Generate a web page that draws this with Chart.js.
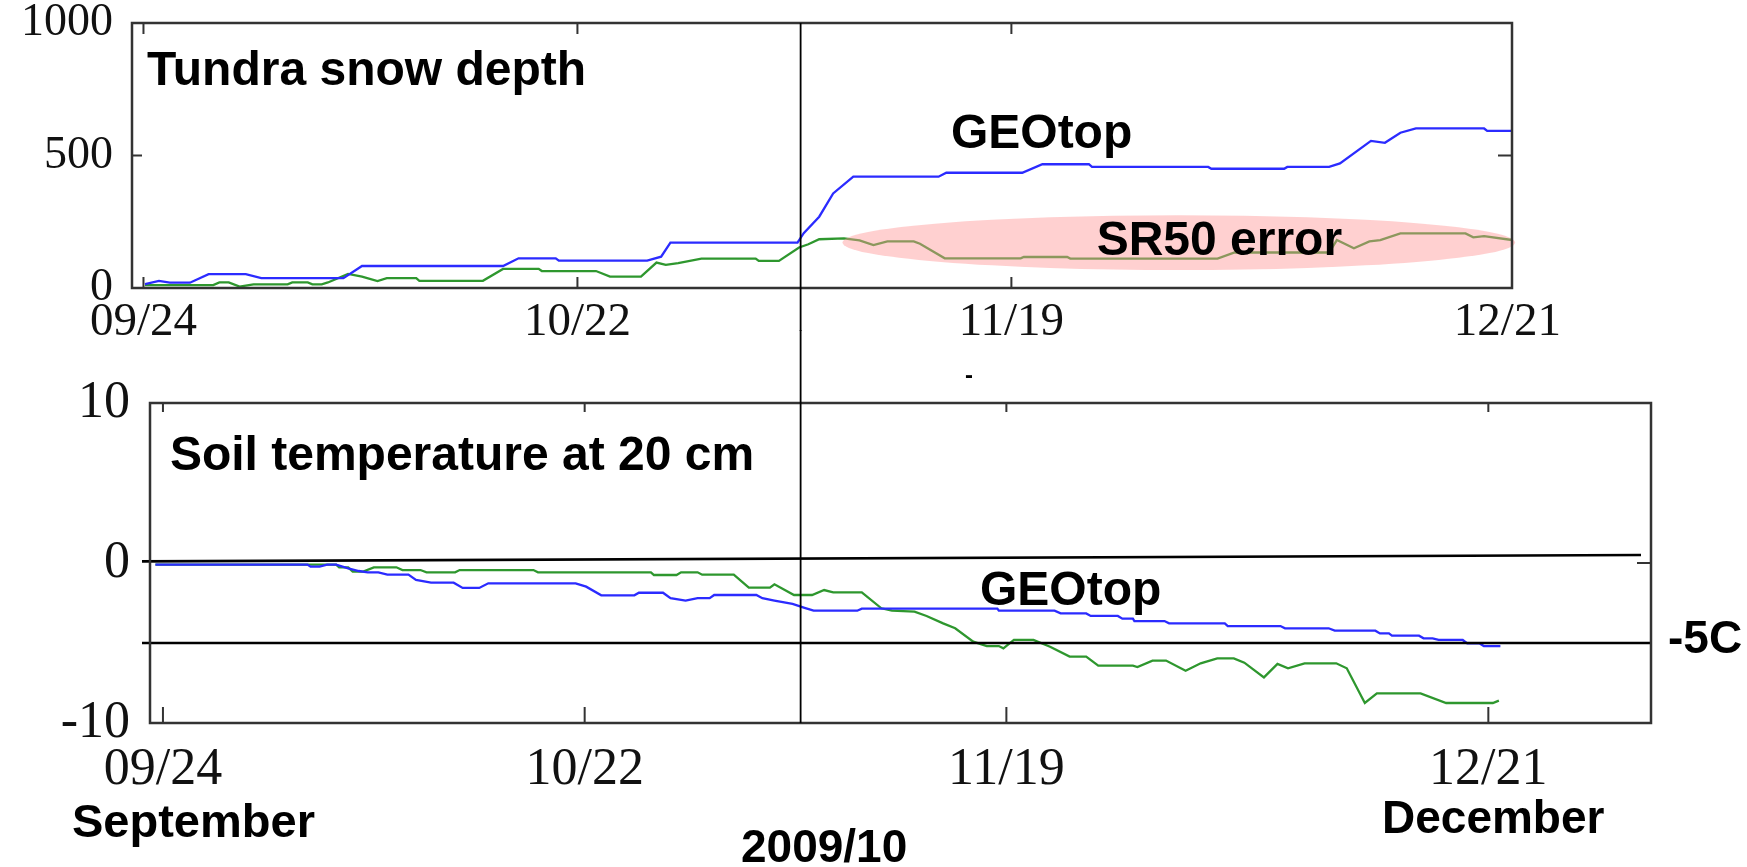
<!DOCTYPE html>
<html>
<head>
<meta charset="utf-8">
<title>Tundra snow depth and soil temperature 2009/10</title>
<script src="https://cdn.jsdelivr.net/npm/chart.js@4.4.1/dist/chart.umd.min.js"></script>
<style>
    html, body { margin: 0; padding: 0; background: #ffffff; }
    #page { position: relative; width: 1747px; height: 867px; overflow: hidden; background: #ffffff; }
    #snowChart { position: absolute; left: 0; top: 0; }
    #soilChart { position: absolute; left: 0; top: 330px; }
</style>
</head>
<body>
<div id="page">
    <canvas id="snowChart" width="1747" height="400"></canvas>
    <canvas id="soilChart" width="1747" height="537"></canvas>
</div>
<script>
// x values are days after 09/24 (2009)
var xTickDays = [0, 28, 56, 88];
var xTickLabels = ['09/24', '10/22', '11/19', '12/21'];
var snowTicks = [0, 500, 1000];
var soilTicks = [-10, 0, 10];

// Tundra snow depth, GEOtop (blue)
var geotopSnowDays = [0.1, 1.0, 1.7, 3.0, 4.2, 6.6, 7.6, 12.9, 14.1, 23.2, 24.2, 26.6, 26.8, 32.5, 33.4, 34.0,
    42.2, 42.6, 43.6, 44.5, 45.8, 51.3, 51.8, 56.7, 58.0, 61.0, 61.2, 68.7, 68.9, 73.6, 73.8, 76.5,
    77.2, 79.2, 80.1, 81.1, 82.1, 86.5, 86.7, 88.3];
var geotopSnow = [15, 27, 20, 20, 52, 52, 37, 37, 83, 83, 112, 112, 103, 103, 118, 171,
    171, 207, 269, 357, 420, 420, 435, 435, 467, 467, 457, 457, 450, 450, 457, 457,
    470, 555, 548, 586, 602, 602, 593, 593];

// Tundra snow depth, SR50 sensor (green)
var sr50SnowDays = [0.1, 4.5, 4.9, 5.5, 6.2, 7.1, 9.3, 9.6, 10.6, 10.9, 11.5, 11.9, 13.2, 14.1, 15.1, 15.7,
    17.6, 17.8, 21.9, 23.2, 25.5, 25.7, 29.2, 30.1, 32.1, 33.1, 33.7, 34.5, 36.0, 39.5, 39.7, 41.0,
    42.3, 42.9, 43.6, 45.2, 46.2, 47.1, 48.0, 49.7, 50.1, 51.7, 56.6, 56.8, 59.6, 59.8, 69.3, 70.4,
    76.5, 77.0, 78.1, 79.1, 79.8, 81.1, 85.3, 85.8, 86.5, 88.3];
var sr50Snow = [11, 11, 21, 21, 5, 14, 14, 21, 21, 14, 14, 21, 53, 43, 26, 37,
    37, 27, 27, 72, 72, 64, 64, 43, 43, 96, 87, 94, 111, 111, 102, 102,
    153, 165, 184, 187, 180, 162, 176, 176, 167, 112, 112, 117, 117, 111, 111, 134,
    134, 181, 150, 176, 181, 206, 206, 191, 196, 181];

// Soil temperature at 20 cm, GEOtop (blue)
var geotopSoilDays = [-0.5, 9.6, 9.8, 10.4, 10.9, 11.5, 12.3, 13.0, 13.6, 14.3, 14.9, 16.3, 16.8, 17.8, 19.3, 19.9,
    21.0, 21.6, 27.4, 28.1, 29.1, 31.3, 31.6, 33.2, 33.7, 34.7, 35.5, 36.3, 36.6, 39.4, 39.8, 40.6,
    41.8, 42.6, 43.2, 46.1, 46.4, 55.4, 55.5, 59.2, 59.6, 61.3, 61.6, 63.4, 63.7, 64.4, 64.5, 66.5,
    66.8, 70.5, 70.7, 74.2, 74.5, 77.4, 77.8, 80.5, 80.8, 81.4, 81.6, 83.4, 83.7, 84.3, 84.7, 86.3,
    86.6, 87.4, 87.7, 88.8];
var geotopSoil = [-0.1, -0.1, -0.23, -0.23, -0.1, -0.1, -0.33, -0.5, -0.58, -0.58, -0.73, -0.73, -1.06, -1.23, -1.23, -1.56,
    -1.56, -1.27, -1.27, -1.48, -2.02, -2.02, -1.86, -1.86, -2.2, -2.35, -2.2, -2.2, -2.0, -2.0, -2.2, -2.35,
    -2.56, -2.8, -2.98, -2.98, -2.85, -2.85, -2.98, -2.98, -3.15, -3.15, -3.31, -3.31, -3.48, -3.48, -3.63, -3.63,
    -3.77, -3.77, -3.94, -3.94, -4.08, -4.08, -4.23, -4.23, -4.4, -4.4, -4.54, -4.54, -4.71, -4.71, -4.81, -4.81,
    -5.02, -5.02, -5.19, -5.19];

// Soil temperature at 20 cm, observed (green)
var obsSoilDays = [-0.5, 11.5, 11.7, 12.3, 12.6, 13.3, 14.0, 15.5, 15.9, 17.1, 17.5, 19.4, 19.7, 24.6, 24.9, 32.4,
    32.6, 34.1, 34.4, 35.5, 35.8, 37.9, 38.9, 40.3, 40.6, 41.9, 43.1, 43.9, 44.5, 46.4, 47.7, 48.4,
    49.9, 50.7, 51.8, 52.6, 53.8, 54.7, 55.5, 55.8, 56.5, 57.8, 58.9, 60.2, 61.3, 62.1, 64.4, 64.7,
    65.7, 66.6, 67.9, 68.9, 70.0, 71.1, 71.8, 73.1, 74.0, 74.7, 75.8, 77.9, 78.6, 79.8, 80.6, 83.5,
    85.2, 88.3, 88.7];
var obsSoil = [-0.1, -0.1, -0.27, -0.27, -0.54, -0.54, -0.27, -0.27, -0.44, -0.44, -0.58, -0.58, -0.44, -0.44, -0.58, -0.58,
    -0.75, -0.75, -0.58, -0.58, -0.73, -0.73, -1.54, -1.54, -1.33, -2.0, -2.0, -1.69, -1.83, -1.83, -2.83, -2.98,
    -3.04, -3.31, -3.77, -4.08, -4.92, -5.19, -5.19, -5.33, -4.81, -4.81, -5.23, -5.85, -5.85, -6.42, -6.42, -6.5,
    -6.1, -6.1, -6.73, -6.27, -5.96, -5.96, -6.23, -7.15, -6.31, -6.58, -6.27, -6.27, -6.58, -8.75, -8.15, -8.15,
    -8.75, -8.75, -8.6];

var markerDay = 42.4;      // vertical divider through both panels
var zeroLine = [0.1, 0.5]; // hand drawn 0 line (left end, right end)
var coldLine = -5;

var BLUE = '#2b2bff';
var GREEN = '#2e972e';
var SERIF = '"Liberation Serif", "Times New Roman", serif';
var SANS_BOLD = 'bold 48px "Liberation Sans", Arial, sans-serif';

// the lower canvas starts this far down the page; the upper divider stops here
var SOIL_CANVAS_TOP = 330;

function toPoints(days, values) {
    return days.map(function(d, i) {
        return { x: d, y: values[i] };
    });
}

function lineDataset(label, points, color) {
    return {
        label: label,
        data: points,
        borderColor: color,
        backgroundColor: color,
        borderWidth: 2.3,
        pointRadius: 0,
        tension: 0,
        fill: false
    };
}

function xScaleOptions(min, max, height, padding, fontSize) {
    return {
        type: 'linear',
        min: min,
        max: max,
        grid: { display: false, drawTicks: false },
        border: { display: false },
        afterBuildTicks: function(scale) {
            scale.ticks = xTickDays.map(function(v) { return { value: v }; });
        },
        afterFit: function(scale) {
            scale.height = height;
            scale.paddingLeft = 0;
            scale.paddingRight = 0;
        },
        ticks: {
            autoSkip: false,
            maxRotation: 0,
            minRotation: 0,
            padding: padding,
            color: '#111',
            font: { family: SERIF, size: fontSize, lineHeight: 1 },
            callback: function(value) {
                var i = xTickDays.indexOf(value);
                return i >= 0 ? xTickLabels[i] : '';
            }
        }
    };
}

function yScaleOptions(min, max, tickValues, width, padding, fontSize) {
    return {
        min: min,
        max: max,
        grid: { display: false, drawTicks: false },
        border: { display: false },
        afterBuildTicks: function(scale) {
            scale.ticks = tickValues.map(function(v) { return { value: v }; });
        },
        afterFit: function(scale) {
            scale.width = width;
            scale.paddingTop = 0;
            scale.paddingBottom = 0;
        },
        ticks: {
            padding: padding,
            color: '#111',
            font: { family: SERIF, size: fontSize, lineHeight: 1 },
            callback: function(value) {
                return String(value);
            }
        }
    };
}

function drawFrame(chart) {
    var a = chart.chartArea, ctx = chart.ctx;
    ctx.save();
    ctx.strokeStyle = '#333';
    ctx.lineWidth = 2.5;
    ctx.strokeRect(a.left, a.top, a.right - a.left, a.bottom - a.top);
    ctx.restore();
}

// small tick marks pointing into the plot
function drawInnerTicks(chart, days, topLen, bottomLen, yValues, leftLen, rightLen) {
    var a = chart.chartArea, ctx = chart.ctx;
    var xs = chart.scales.x, ys = chart.scales.y;
    ctx.save();
    ctx.strokeStyle = '#333';
    ctx.lineWidth = 2;
    ctx.beginPath();
    days.forEach(function(d) {
        var px = xs.getPixelForValue(d);
        ctx.moveTo(px, a.top); ctx.lineTo(px, a.top + topLen);
        ctx.moveTo(px, a.bottom); ctx.lineTo(px, a.bottom - bottomLen);
    });
    yValues.forEach(function(v) {
        var py = ys.getPixelForValue(v);
        ctx.moveTo(a.left, py); ctx.lineTo(a.left + leftLen, py);
        ctx.moveTo(a.right, py); ctx.lineTo(a.right - rightLen, py);
    });
    ctx.stroke();
    ctx.restore();
}

function drawDivider(ctx, x, y0, y1) {
    ctx.save();
    ctx.strokeStyle = '#000';
    ctx.lineWidth = 1.8;
    ctx.beginPath();
    ctx.moveTo(x, y0);
    ctx.lineTo(x, y1);
    ctx.stroke();
    ctx.restore();
}

function drawLabel(ctx, text, x, y, font) {
    ctx.save();
    ctx.fillStyle = '#000';
    ctx.font = font || SANS_BOLD;
    ctx.textAlign = 'left';
    ctx.textBaseline = 'alphabetic';
    ctx.fillText(text, x, y);
    ctx.restore();
}

var snowDecor = {
    id: 'snowDecor',
    afterDatasetsDraw: function(chart) {
        var ctx = chart.ctx, a = chart.chartArea;
        var xs = chart.scales.x, ys = chart.scales.y;

        // pink "SR50 error" ellipse laid over the lines
        var left = xs.getPixelForValue(45.1), right = xs.getPixelForValue(88.5);
        var top = ys.getPixelForValue(275), bottom = ys.getPixelForValue(68);
        ctx.save();
        ctx.fillStyle = 'rgba(255, 150, 150, 0.45)';
        ctx.beginPath();
        ctx.ellipse((left + right) / 2, (top + bottom) / 2, (right - left) / 2, (bottom - top) / 2, 0, 0, Math.PI * 2);
        ctx.fill();
        ctx.restore();

        drawFrame(chart);
        drawInnerTicks(chart, [0, 28, 56], 11, 11, [500], 10, 14);

        // divider line, continued by the lower panel
        drawDivider(ctx, xs.getPixelForValue(markerDay), a.top, SOIL_CANVAS_TOP + 1);

        drawLabel(ctx, 'Tundra snow depth', xs.getPixelForValue(0.23), ys.getPixelForValue(766));
        drawLabel(ctx, 'GEOtop', xs.getPixelForValue(52.1), ys.getPixelForValue(528));
        drawLabel(ctx, 'SR50 error', xs.getPixelForValue(61.5), ys.getPixelForValue(125));
    }
};

var soilDecor = {
    id: 'soilDecor',
    afterDatasetsDraw: function(chart) {
        var ctx = chart.ctx, a = chart.chartArea;
        var xs = chart.scales.x, ys = chart.scales.y;

        // hand drawn reference lines at 0 and -5 C
        ctx.save();
        ctx.strokeStyle = '#000';
        ctx.lineWidth = 2.6;
        ctx.beginPath();
        ctx.moveTo(a.left - 8, ys.getPixelForValue(zeroLine[0]));
        ctx.lineTo(a.right - 10, ys.getPixelForValue(zeroLine[1]));
        ctx.moveTo(a.left - 8, ys.getPixelForValue(coldLine));
        ctx.lineTo(a.right, ys.getPixelForValue(coldLine));
        ctx.stroke();
        ctx.restore();

        drawFrame(chart);
        drawInnerTicks(chart, xTickDays, 9, 16, [0], 0, 14);

        // same page x as the upper panel's divider, so both halves line up
        var upper = Chart.getChart('snowChart');
        var mx = upper ? upper.scales.x.getPixelForValue(markerDay) : xs.getPixelForValue(markerDay);
        drawDivider(ctx, mx, 0, a.bottom);

        drawLabel(ctx, 'Soil temperature at 20 cm', xs.getPixelForValue(0.46), ys.getPixelForValue(5.8));
        drawLabel(ctx, 'GEOtop', xs.getPixelForValue(54.25), ys.getPixelForValue(-2.63));
        drawLabel(ctx, '-5C', a.right + 17, ys.getPixelForValue(coldLine) + 10, 'bold 46px "Liberation Sans", Arial, sans-serif');
        drawLabel(ctx, '-', 965, a.top - 20, 'bold 24px "Liberation Sans", Arial, sans-serif');

        // captions under the axis
        drawLabel(ctx, 'September', 72, a.bottom + 114, 'bold 47px "Liberation Sans", Arial, sans-serif');
        drawLabel(ctx, 'December', 1382, a.bottom + 110, 'bold 46px "Liberation Sans", Arial, sans-serif');
        drawLabel(ctx, '2009/10', 741, a.bottom + 139, 'bold 46px "Liberation Sans", Arial, sans-serif');
    }
};

var snowChart = new Chart(document.getElementById('snowChart'), {
    type: 'line',
    data: {
        datasets: [
            lineDataset('GEOtop', toPoints(geotopSnowDays, geotopSnow), BLUE),
            lineDataset('SR50', toPoints(sr50SnowDays, sr50Snow), GREEN)
        ]
    },
    options: {
        responsive: false,
        animation: false,
        layout: { padding: { left: 0, top: 23, right: 235, bottom: 0 } },
        plugins: {
            legend: { display: false },
            tooltip: { enabled: false }
        },
        scales: {
            x: xScaleOptions(-0.74, 88.3, 112, 11, 47),
            y: yScaleOptions(0, 1000, snowTicks, 132, 19, 46)
        }
    },
    plugins: [snowDecor]
});

var soilChart = new Chart(document.getElementById('soilChart'), {
    type: 'line',
    data: {
        datasets: [
            lineDataset('GEOtop', toPoints(geotopSoilDays, geotopSoil), BLUE),
            lineDataset('Observed', toPoints(obsSoilDays, obsSoil), GREEN)
        ]
    },
    options: {
        responsive: false,
        animation: false,
        layout: { padding: { left: 0, top: 73, right: 96, bottom: 0 } },
        plugins: {
            legend: { display: false },
            tooltip: { enabled: false }
        },
        scales: {
            x: xScaleOptions(-0.86, 98.8, 144, 21, 52),
            y: yScaleOptions(-10, 10, soilTicks, 150, 20, 52)
        }
    },
    plugins: [soilDecor]
});
</script>
</body>
</html>
